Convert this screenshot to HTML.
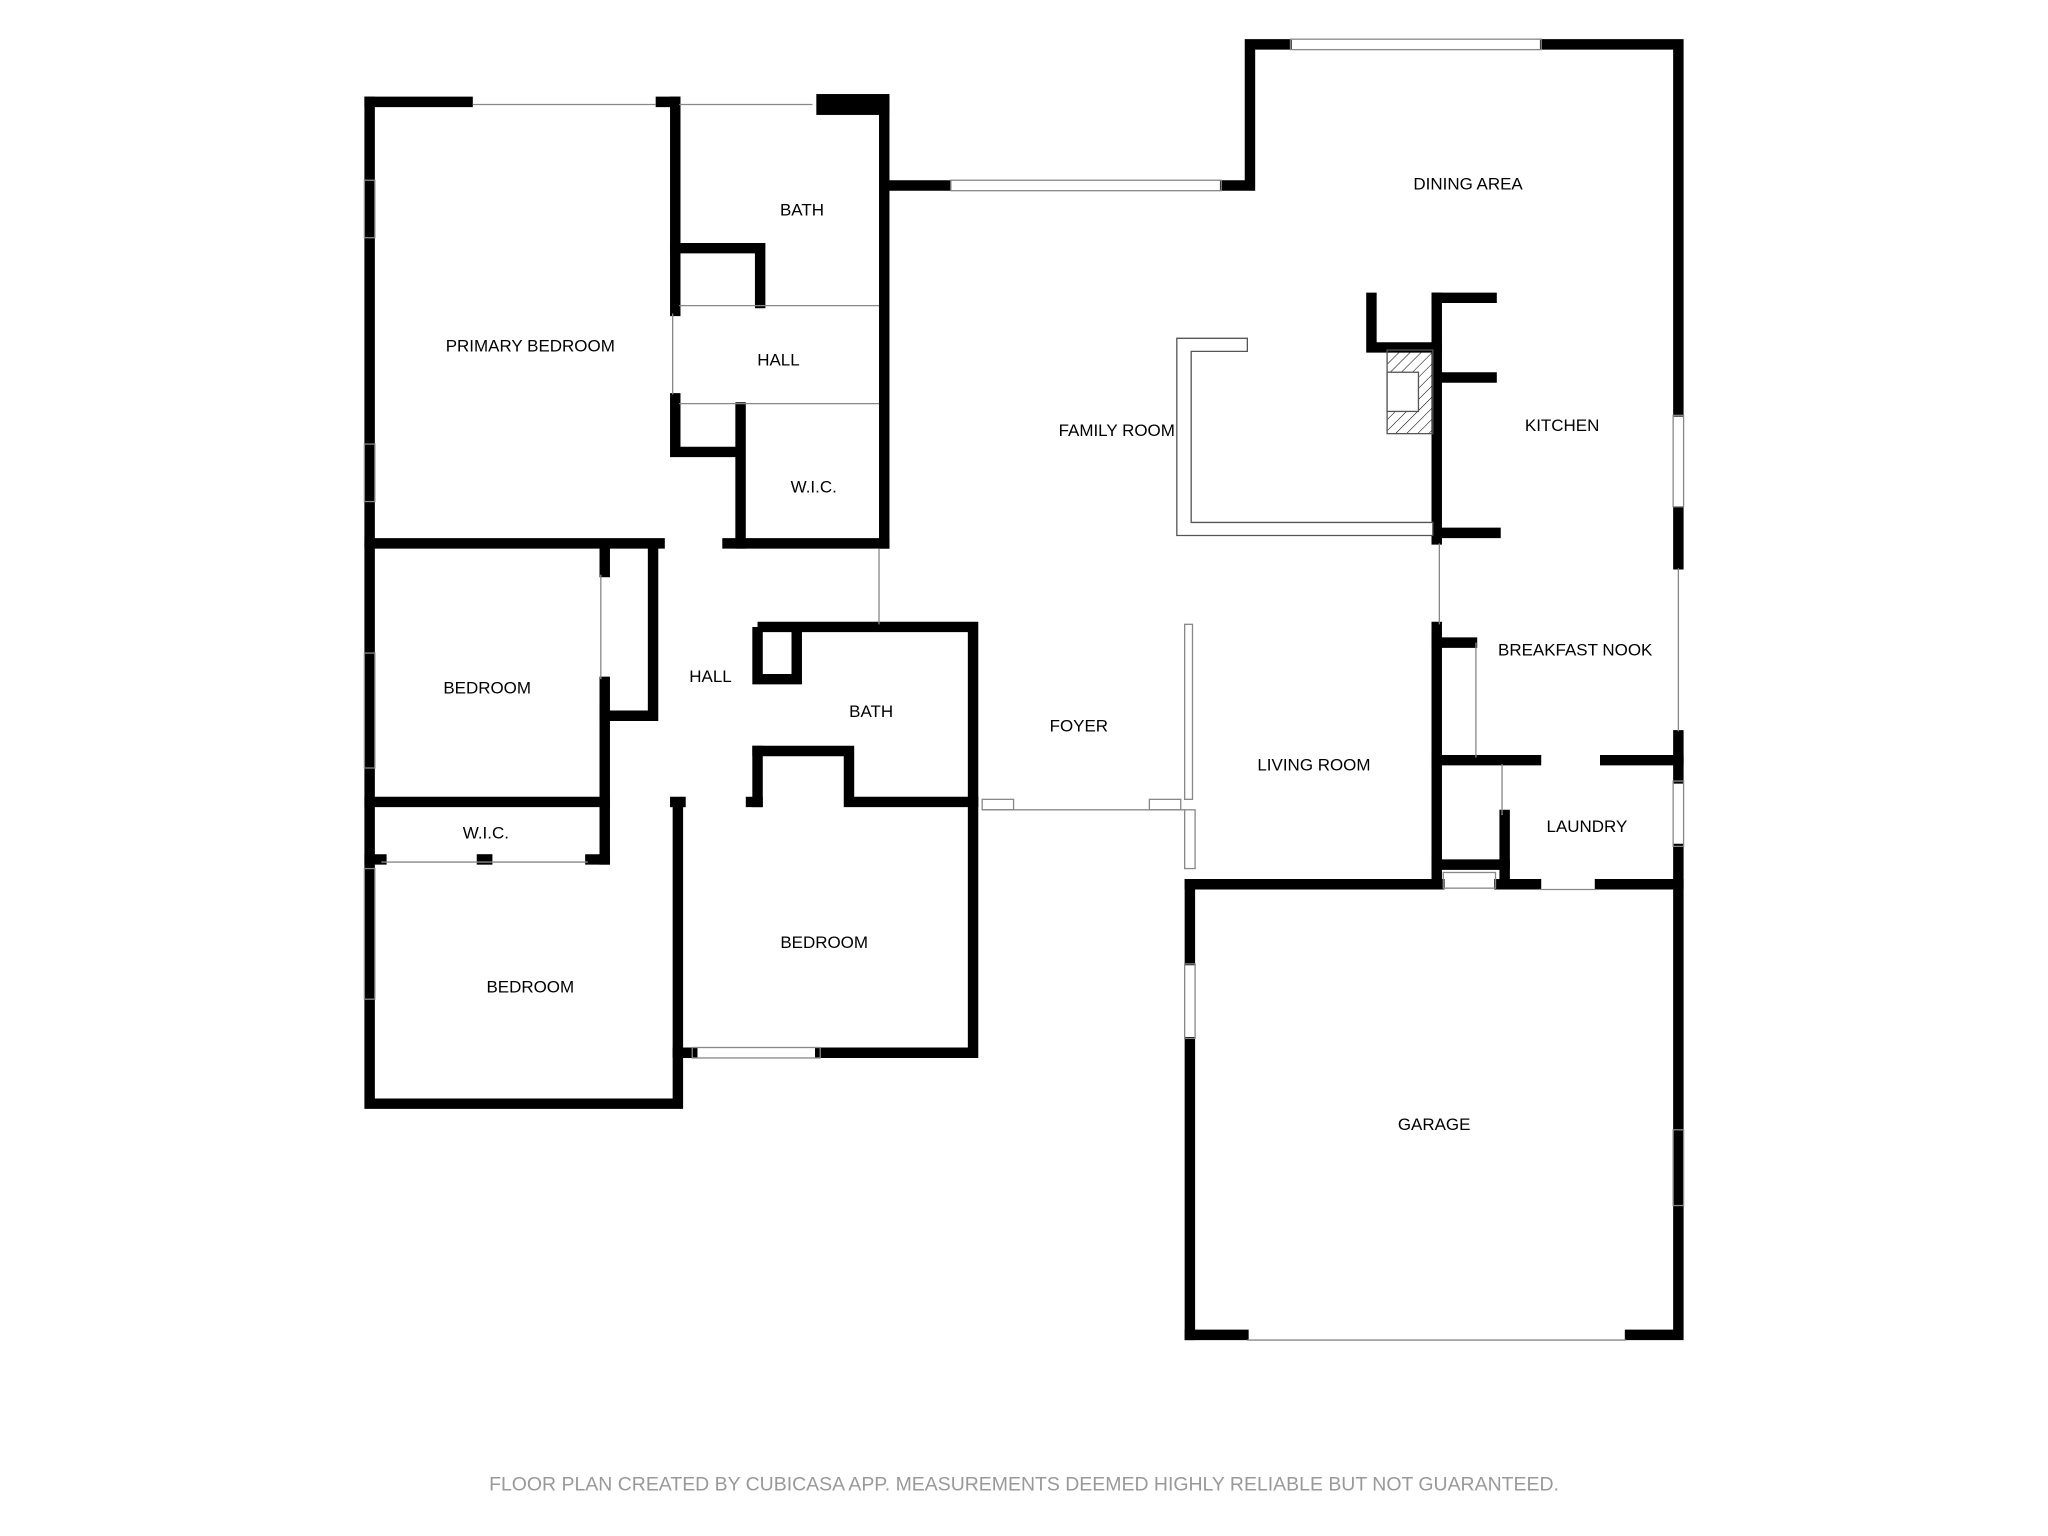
<!DOCTYPE html>
<html><head><meta charset="utf-8"><style>
html,body{margin:0;padding:0;background:#fff;}
svg{display:block;}
text{font-family:"Liberation Sans",sans-serif;font-size:13px;fill:#000;text-anchor:middle;}
</style></head><body>
<svg width="2048" height="1536" viewBox="0 0 1568 1176" xmlns="http://www.w3.org/2000/svg">
<defs><pattern id="h" width="6" height="6" patternUnits="userSpaceOnUse" patternTransform="rotate(45)"><line x1="0" y1="0" x2="0" y2="6" stroke="#000" stroke-width="0.8"/></pattern></defs>
<g stroke="#000" stroke-width="8" stroke-linecap="square" fill="none">
<path d="M283 78 V845 H519 V617"/>
<path d="M283 78 H358"/><path d="M506 78 H517"/>
<path d="M519 806 H530"/><path d="M628 806 H745 V480 H584"/>
<path d="M517 78 V238"/><path d="M517 190 H582 V232"/>
<path d="M677 78 V416"/>
<rect x="625" y="72" width="56" height="16" fill="#000" stroke="none"/>
<path d="M681 142 H724"/><path d="M938 142 H957 V34 H985"/><path d="M1183 34 H1285 V315"/>
<path d="M1285 392 V432"/><path d="M1285 563 V596"/><path d="M1285 650 V1022 H1248"/>
<path d="M911 1022 H952"/><path d="M911 677 V735"/><path d="M911 798 V1022"/>
<path d="M911 677 H1102"/><path d="M1148 677 H1176"/><path d="M1225 677 H1285"/>
<path d="M517 305 V346 H565"/><path d="M567 312 V416"/>
<path d="M283 416 H505"/><path d="M557 416 H677"/>
<path d="M463 420 V438"/><path d="M463 522 V612"/><path d="M500 420 V548 H463"/>
<path d="M283 614 H463"/><path d="M517 614 H521"/><path d="M575 614 H580"/>
<path d="M580 575 V614"/><path d="M580 575 H650 V614 H745"/>
<path d="M580 484 V520 H610 V484"/>
<path d="M463 614 V658"/><path d="M283 658 H292"/><path d="M369 658 H373"/><path d="M452 658 H463"/>
<path d="M1050 228 V266 H1100"/><path d="M1100 228 H1142"/><path d="M1100 228 V413"/>
<path d="M1100 289 H1142"/><path d="M1100 408 H1145"/>
<path d="M1100 480 V673"/><path d="M1100 492 H1127"/>
<path d="M1100 582 H1176"/><path d="M1229 582 H1285"/>
<path d="M1152 624 V677"/><path d="M1100 662 H1152"/>
</g>
<g stroke="#888" stroke-width="1" fill="none">
<path d="M362 80 H502"/><path d="M520 80 H622"/>
<rect x="728" y="138" width="207" height="8"/><rect x="988" y="30" width="192" height="8"/>
<rect x="279" y="138" width="8" height="44"/><rect x="279" y="340" width="8" height="44"/>
<rect x="279" y="500" width="8" height="88"/><rect x="279" y="665" width="8" height="100"/>
<rect x="1281" y="318" width="8" height="70"/><rect x="1281" y="598" width="8" height="50"/>
<rect x="1281" y="865" width="8" height="58"/><rect x="907" y="738" width="8" height="57"/>
<rect x="907" y="620" width="8" height="45"/><rect x="907" y="478" width="6" height="134"/>
<rect x="530" y="802" width="98" height="8"/><rect x="752" y="612" width="24" height="8"/><rect x="880" y="612" width="24" height="8"/>
<path d="M752 620 H907"/><path d="M955 1026 H1245"/>
<path d="M520 234 H673"/><path d="M520 309 H673"/><path d="M673 420 V478"/>
<path d="M1102 416 V478"/><path d="M1130 492 V580"/><path d="M1150 585 V624"/><path d="M1285 435 V560"/>
<path d="M292 660 H450"/><rect x="1105" y="668" width="40" height="12"/><path d="M1178 681 H1222"/>
<path d="M515 240 V302"/><path d="M460 440 V520"/>
</g>
<path d="M901 259 H955 V269 H912 V400 H1097 V410 H901 Z" fill="#fff" stroke="#555" stroke-width="1"/>
<rect x="1062" y="268" width="35" height="64" fill="url(#h)" stroke="#555" stroke-width="1"/>
<rect x="1062" y="285" width="24" height="30" fill="#fff" stroke="#555" stroke-width="1"/>
<text x="406" y="269">PRIMARY BEDROOM</text>
<text x="614" y="165">BATH</text>
<text x="596" y="280">HALL</text>
<text x="623" y="377">W.I.C.</text>
<text x="373" y="531">BEDROOM</text>
<text x="544" y="522">HALL</text>
<text x="667" y="549">BATH</text>
<text x="372" y="642">W.I.C.</text>
<text x="406" y="760">BEDROOM</text>
<text x="631" y="726">BEDROOM</text>
<text x="826" y="560">FOYER</text>
<text x="855" y="334">FAMILY ROOM</text>
<text x="1124" y="145">DINING AREA</text>
<text x="1196" y="330">KITCHEN</text>
<text x="1206" y="502">BREAKFAST NOOK</text>
<text x="1006" y="590">LIVING ROOM</text>
<text x="1215" y="637">LAUNDRY</text>
<text x="1098" y="865">GARAGE</text>
<text x="784" y="1141" style="fill:#999;font-size:14.9px">FLOOR PLAN CREATED BY CUBICASA APP. MEASUREMENTS DEEMED HIGHLY RELIABLE BUT NOT GUARANTEED.</text>
</svg>
</body></html>
